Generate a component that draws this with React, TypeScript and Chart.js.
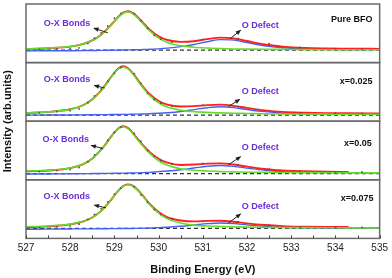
import React, { useEffect, useRef } from 'react';
import { Chart, registerables } from 'chart.js';

Chart.register(...registerables);

// Binding energy grid (eV)
const ENERGY = [527.0, 527.5, 528.0, 528.3, 528.5, 528.7, 528.8, 528.9, 529.0, 529.1, 529.2, 529.3, 529.4, 529.5, 529.6, 529.7, 529.8, 530.0, 530.2, 530.5, 530.8, 531.1, 531.4, 531.7, 532.0, 532.4, 532.8, 533.3, 533.8, 534.3, 535.0];

// Panel 1: Pure BFO
const P1_GREEN = [14.1, 14.9, 16.5, 19.1, 22.6, 28.4, 32.4, 37.1, 42.1, 46.9, 50.5, 51.9, 50.5, 46.9, 42.1, 37.1, 32.4, 25.1, 20.6, 17.2, 15.7, 14.9, 14.4, 14.0, 13.8, 13.6, 13.5, 13.3, 13.2, 13.2, 13.1];
const P1_BLUE = [11.9, 12.1, 12.2, 12.3, 12.4, 12.5, 12.6, 12.6, 12.7, 12.8, 12.9, 13.0, 13.0, 13.2, 13.3, 13.5, 13.6, 14.1, 14.8, 16.3, 18.5, 21.4, 23.5, 23.0, 20.6, 17.2, 15.2, 14.0, 13.6, 13.4, 13.3];
const P1_RED = [13.7, 14.7, 16.4, 19.1, 22.7, 28.6, 32.7, 37.4, 42.5, 47.4, 51.1, 52.6, 51.2, 47.8, 43.1, 38.3, 33.7, 26.9, 23.1, 21.2, 21.9, 24.0, 25.6, 24.7, 22.1, 18.5, 16.4, 15.0, 14.5, 14.3, 14.1];

// Panel 2: x=0.025
const P2_GREEN = [8.5, 9.5, 12.1, 16.4, 22.1, 31.2, 37.0, 43.3, 49.3, 53.8, 55.5, 53.8, 49.3, 43.3, 37.0, 31.2, 26.2, 18.9, 14.5, 11.3, 9.8, 9.0, 8.5, 8.1, 7.9, 7.6, 7.4, 7.3, 7.2, 7.1, 7.1];
const P2_BLUE = [6.2, 6.3, 6.4, 6.5, 6.6, 6.7, 6.7, 6.8, 6.8, 6.9, 7.0, 7.0, 7.1, 7.2, 7.3, 7.5, 7.7, 8.1, 8.7, 10.0, 11.9, 13.8, 14.8, 13.9, 12.0, 9.8, 8.4, 7.7, 7.4, 7.3, 7.2];
const P2_RED = [8.4, 9.5, 12.2, 16.6, 22.4, 31.6, 37.4, 43.8, 49.8, 54.4, 56.2, 54.5, 50.1, 44.2, 38.0, 32.4, 27.6, 20.7, 16.9, 15.0, 15.4, 16.5, 17.0, 15.7, 13.6, 11.1, 9.5, 8.7, 8.3, 8.1, 8.0];

// Panel 3: x=0.05
const P3_GREEN = [9.0, 9.8, 12.0, 16.1, 21.7, 30.6, 36.2, 42.4, 48.2, 52.6, 54.3, 52.6, 48.2, 42.4, 37.0, 31.8, 27.0, 19.5, 14.8, 11.2, 9.8, 9.0, 8.4, 8.1, 7.8, 7.6, 7.4, 7.3, 7.2, 7.1, 7.1];
const P3_BLUE = [5.9, 6.0, 6.2, 6.3, 6.4, 6.5, 6.6, 6.6, 6.7, 6.8, 6.8, 6.9, 7.0, 7.1, 7.2, 7.4, 7.6, 8.4, 9.0, 10.3, 12.1, 13.9, 14.7, 13.8, 12.0, 9.8, 8.4, 7.7, 7.4, 7.3, 7.2];
const P3_RED = [8.6, 9.5, 11.9, 16.1, 21.8, 30.8, 36.5, 42.7, 48.6, 53.1, 54.8, 53.2, 48.9, 43.2, 37.9, 32.9, 28.3, 21.6, 17.5, 15.2, 15.6, 16.6, 16.8, 15.6, 13.5, 11.1, 9.5, 8.7, 8.3, 8.1, null];

// Panel 4: x=0.075
const P4_GREEN = [11.9, 12.7, 14.6, 17.6, 21.5, 28.2, 32.8, 38.1, 43.8, 49.3, 53.4, 55.0, 54.0, 50.5, 45.5, 40.0, 34.5, 25.8, 20.0, 15.8, 13.6, 12.7, 12.2, 11.8, 11.5, 11.3, 11.1, 11.0, 10.9, 10.8, 10.7];
const P4_BLUE = [9.4, 9.5, 9.7, 9.8, 9.8, 9.9, 9.9, 10.0, 10.0, 10.1, 10.1, 10.2, 10.2, 10.3, 10.4, 10.5, 10.6, 11.0, 11.4, 12.4, 13.7, 15.1, 15.8, 15.2, 13.8, 12.3, 11.4, 10.9, 10.7, 10.7, 10.7];
const P4_RED = [11.4, 12.3, 14.4, 17.5, 21.4, 28.2, 32.8, 38.2, 43.9, 49.5, 53.6, 55.3, 54.3, 50.9, 46.0, 40.6, 35.2, 26.9, 21.5, 18.3, 17.4, 17.9, 18.1, 17.1, 15.4, 13.7, 12.6, 12.0, 11.7, 11.6, null];

// Raw (dotted) data
const DOT_ENERGY = [527.3, 527.7, 528.0, 528.2, 528.4, 528.55, 528.7, 528.85, 529.0, 529.15, 529.45, 529.6, 529.75, 529.9, 530.05, 530.3, 531.0, 531.8, 532.5, 533.2, 534.0, 534.6];
const P1_DOTS = [13.6, 13.9, 14.2, 15.0, 19.5, 25.0, 30.5, 37.5, 45.5, 50.5, 50.0, 43.0, 35.0, 28.0, 24.0, 21.0, 23.5, 24.5, 19.5, 15.5, 14.3, 14.0];
const P2_DOTS = [8.6, 9.8, 10.8, 12.5, 19.0, 26.0, 33.0, 41.0, 49.0, 55.0, 48.5, 39.0, 28.5, 22.0, 18.5, 15.5, 16.5, 15.0, 10.8, 8.8, 8.2, 8.0];
const P3_DOTS = [8.3, 9.5, 10.5, 12.5, 18.5, 25.5, 32.5, 40.5, 48.5, 54.0, 47.5, 39.5, 30.0, 24.0, 19.5, 16.0, 16.8, 15.0, 10.8, 8.8, 8.2, 8.0];
const P4_DOTS = [11.0, 12.0, 12.8, 14.5, 19.5, 24.5, 30.5, 37.5, 45.5, 51.5, 53.0, 44.5, 37.0, 29.5, 24.5, 20.0, 17.5, 17.0, 13.5, 11.8, 11.5, 11.2];

// Dashed baselines
const BASELINES = [12.7, 6.3, 6.4, 10.2];

const PANEL_NAMES = ['Pure BFO', 'x=0.025', 'x=0.05', 'x=0.075'];
const X_TICK_MIN = 527;
const X_TICK_MAX = 535;

const FONT = "Arial, 'Liberation Sans', Helvetica, sans-serif";
const LABEL_COLOR = '#6d2ed6';

// Annotation anchor points in data coordinates (eV, panel units)
const ANNOTATIONS = [
  { ox: [527.93, 40.1], oxArrow: [528.85, 30.5, 528.54, 35.2], od: [532.3, 38.4], odArrow: [531.62, 24.7, 531.85, 32.9], name: [534.84, 44.4] },
  { ox: [527.93, 42.5], oxArrow: [528.78, 34.0, 528.55, 36.5], od: [532.3, 29.9], odArrow: [531.58, 15.0, 531.83, 22.3], name: [534.84, 40.8] },
  { ox: [527.9, 41.2], oxArrow: [528.74, 32.0, 528.48, 35.2], od: [532.3, 32.6], odArrow: [531.58, 15.4, 531.85, 23.6], name: [534.82, 36.8] },
  { ox: [527.92, 42.9], oxArrow: [528.81, 31.3, 528.55, 34.0], od: [532.3, 33.0], odArrow: [531.58, 15.7, 531.85, 25.0], name: [534.86, 40.5] },
];

const PANELS = [
  { green: P1_GREEN, blue: P1_BLUE, red: P1_RED, dots: P1_DOTS },
  { green: P2_GREEN, blue: P2_BLUE, red: P2_RED, dots: P2_DOTS },
  { green: P3_GREEN, blue: P3_BLUE, red: P3_RED, dots: P3_DOTS },
  { green: P4_GREEN, blue: P4_BLUE, red: P4_RED, dots: P4_DOTS },
];

function pts(xs: number[], ys: (number | null)[]) {
  return xs.map((x, i) => ({ x, y: ys[i] }));
}

function drawArrow(ctx: CanvasRenderingContext2D, x1: number, y1: number, x2: number, y2: number) {
  const ang = Math.atan2(y2 - y1, x2 - x1);
  ctx.save();
  ctx.strokeStyle = '#222';
  ctx.fillStyle = '#222';
  ctx.lineWidth = 1;
  ctx.beginPath();
  ctx.moveTo(x1, y1);
  ctx.lineTo(x2, y2);
  ctx.stroke();
  const len = 4.5;
  const w = 2.2;
  ctx.beginPath();
  ctx.moveTo(x2 + Math.cos(ang) * 1, y2 + Math.sin(ang) * 1);
  ctx.lineTo(x2 - Math.cos(ang) * len - Math.sin(ang) * w, y2 - Math.sin(ang) * len + Math.cos(ang) * w);
  ctx.lineTo(x2 - Math.cos(ang) * len + Math.sin(ang) * w, y2 - Math.sin(ang) * len - Math.cos(ang) * w);
  ctx.closePath();
  ctx.fill();
  ctx.restore();
}

const overlayPlugin = {
  id: 'xpsOverlay',
  afterDraw(chart: any) {
    const ctx: CanvasRenderingContext2D = chart.ctx;
    const xs = chart.scales.x;
    ctx.save();
    PANELS.forEach((_, i) => {
      const ys = chart.scales['y' + (i + 1)];
      const a = ANNOTATIONS[i];
      // labels
      ctx.font = `bold 9px ${FONT}`;
      ctx.textBaseline = 'middle';
      ctx.fillStyle = LABEL_COLOR;
      ctx.textAlign = 'center';
      ctx.fillText('O-X Bonds', xs.getPixelForValue(a.ox[0]), ys.getPixelForValue(a.ox[1]));
      ctx.fillText('O Defect', xs.getPixelForValue(a.od[0]), ys.getPixelForValue(a.od[1]));
      ctx.fillStyle = '#111';
      ctx.textAlign = 'right';
      ctx.fillText(PANEL_NAMES[i], xs.getPixelForValue(a.name[0]), ys.getPixelForValue(a.name[1]));
      drawArrow(ctx, xs.getPixelForValue(a.oxArrow[0]), ys.getPixelForValue(a.oxArrow[1]), xs.getPixelForValue(a.oxArrow[2]), ys.getPixelForValue(a.oxArrow[3]));
      drawArrow(ctx, xs.getPixelForValue(a.odArrow[0]), ys.getPixelForValue(a.odArrow[1]), xs.getPixelForValue(a.odArrow[2]), ys.getPixelForValue(a.odArrow[3]));
      // frame
      ctx.strokeStyle = '#6a6a6a';
      ctx.lineWidth = 1.5;
      ctx.strokeRect(xs.left, ys.top, xs.right - xs.left, ys.bottom - ys.top);
    });
    // inward ticks on the bottom axis
    const bottom = chart.scales['y4'].bottom;
    ctx.strokeStyle = '#444';
    ctx.lineWidth = 1;
    for (let v = X_TICK_MIN; v <= X_TICK_MAX; v += 0.5) {
      const px = Math.round(xs.getPixelForValue(v)) + 0.5;
      ctx.beginPath();
      ctx.moveTo(px, bottom);
      ctx.lineTo(px, bottom - 3);
      ctx.stroke();
    }
    // y title
    const top = chart.scales['y1'].top;
    ctx.translate(8, (top + bottom) / 2);
    ctx.rotate(-Math.PI / 2);
    ctx.font = `bold 11px ${FONT}`;
    ctx.fillStyle = '#111';
    ctx.textAlign = 'center';
    ctx.textBaseline = 'middle';
    ctx.fillText('Intensity (arb.units)', 0, 0);
    ctx.restore();
  },
};

export default function App() {
  const ref = useRef<HTMLCanvasElement>(null);
  useEffect(() => {
    if (!ref.current) return;
    const datasets: any[] = [];
    const yScales: any = {};
    PANELS.forEach((p, i) => {
      const yAxisID = 'y' + (i + 1);
      yScales[yAxisID] = {
        type: 'linear',
        position: 'left',
        stack: 'panels',
        stackWeight: 1,
        weight: 4 - i,
        min: 0,
        max: 60,
        display: false,
      };
      datasets.push({
        label: `dots${i}`,
        data: pts(DOT_ENERGY, p.dots),
        yAxisID,
        showLine: false,
        pointRadius: 0.9,
        pointBorderWidth: 0,
        pointBackgroundColor: '#555',
        borderColor: '#555',
      });
      datasets.push({
        label: `green${i}`,
        data: pts(ENERGY, p.green),
        yAxisID,
        borderColor: '#63dc2a',
        borderWidth: 1.6,
        pointRadius: 0,
        cubicInterpolationMode: 'monotone',
      });
      datasets.push({
        label: `red${i}`,
        data: pts(ENERGY, p.red),
        yAxisID,
        borderColor: '#ff1f1f',
        borderWidth: 1.9,
        pointRadius: 0,
        cubicInterpolationMode: 'monotone',
        spanGaps: false,
      });
      datasets.push({
        label: `blue${i}`,
        data: pts(ENERGY, p.blue),
        yAxisID,
        borderColor: '#4262f5',
        borderWidth: 1.4,
        pointRadius: 0,
        cubicInterpolationMode: 'monotone',
      });
      datasets.push({
        label: `base${i}`,
        data: [{ x: X_TICK_MIN, y: BASELINES[i] }, { x: X_TICK_MAX, y: BASELINES[i] }],
        yAxisID,
        borderColor: '#333',
        borderWidth: 1.2,
        borderDash: [4, 3],
        pointRadius: 0,
      });
    });

    const chart = new Chart(ref.current, {
      type: 'line',
      data: { datasets },
      options: {
        animation: false,
        responsive: false,
        devicePixelRatio: 1,
        layout: { padding: { left: 26, right: 10, top: 1, bottom: 1.4 } },
        plugins: { legend: { display: false }, tooltip: { enabled: false } },
        scales: {
          x: {
            type: 'linear',
            position: 'bottom',
            min: X_TICK_MIN,
            max: X_TICK_MAX,
            grid: { display: false, drawTicks: false },
            border: { display: false },
            ticks: {
              stepSize: 1,
              autoSkip: false,
              maxRotation: 0,
              padding: 4,
              color: '#222',
              font: { size: 10, family: FONT },
              callback: (v: any) => String(v),
            },
            title: {
              display: true,
              text: 'Binding Energy (eV)',
              color: '#111',
              font: { size: 11, weight: 'bold', family: FONT },
              padding: { top: 5, bottom: 0 },
            },
          },
          ...yScales,
        },
      },
      plugins: [overlayPlugin],
    } as any);
    return () => chart.destroy();
  }, []);

  return (
    <div style={{ position: 'absolute', left: 0, top: 0, width: 392, height: 278, background: '#fff' }}>
      <canvas ref={ref} width={392} height={278} style={{ width: 392, height: 278, display: 'block' }} />
    </div>
  );
}
